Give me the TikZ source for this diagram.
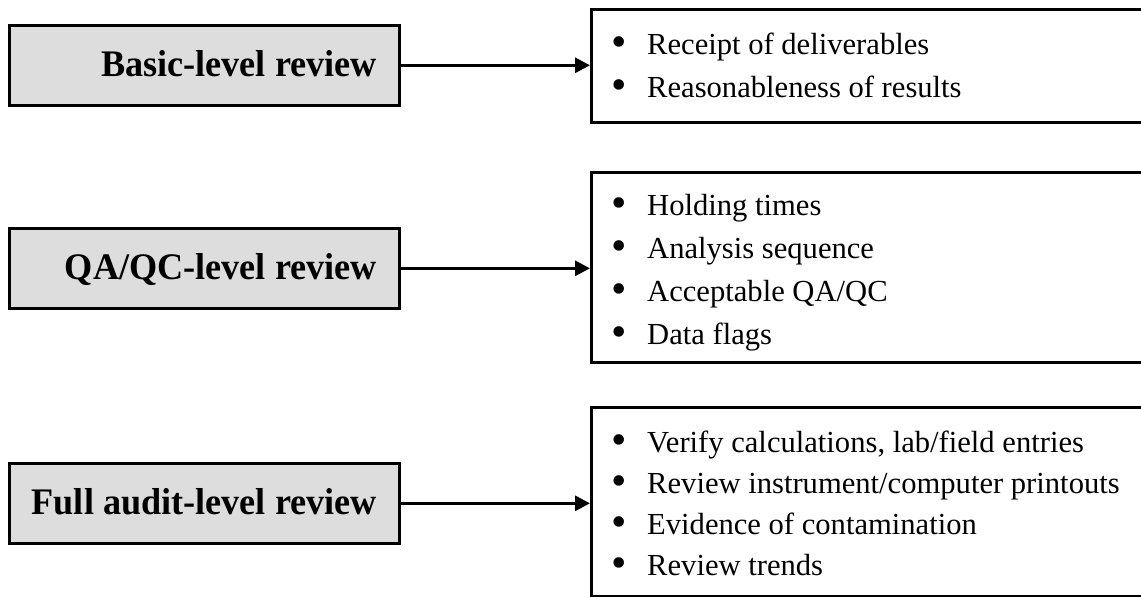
\documentclass[tikz,border=0pt]{standalone}
\usepackage{fontspec}
\setmainfont{Liberation Serif}
\newfontfamily\narrowserif[FakeStretch=0.965]{Liberation Serif}
\usetikzlibrary{arrows.meta}
\definecolor{boxgray}{HTML}{DDDDDD}
\tikzset{
  levelbox/.style={draw=black, line width=2.6pt, fill=boxgray, minimum width=390pt, minimum height=80pt, anchor=north west, inner sep=0pt},
  leveltext/.style={font=\narrowserif\fontsize{37.5}{40}\selectfont\bfseries, anchor=base east, inner sep=0pt},
  listbox/.style={draw=black, line width=2.6pt, anchor=north west, inner sep=0pt},
  item/.style={font=\fontsize{30.6}{36}\selectfont, anchor=base west, inner sep=0pt},
  link/.style={line width=3pt, -{Triangle[length=15pt, width=15pt]}}
}
\newcommand{\bul}[1]{\makebox[36pt][l]{\raisebox{-2pt}{\fontsize{44}{44}\selectfont •}}#1}
\begin{document}
\begin{tikzpicture}[x=1pt, y=-1pt]
\useasboundingbox (0,0) rectangle (1141,597);
\clip (0,0) rectangle (1141,597);
% left boxes
\node[levelbox] (b1) at (8,24) {};
\node[leveltext] (t1) at (377,76) {Basic-level review};
\node[levelbox] (b2) at (8,227) {};
\node[leveltext] (t2) at (377,279) {QA/QC-level review};
\node[levelbox] (b3) at (8,462) {};
\node[leveltext] (t3) at (377,514) {Full audit-level review};
% right boxes
\node[listbox, minimum width=560pt, minimum height=113pt] (r1) at (590,8) {};
\node[listbox, minimum width=560pt, minimum height=190pt] (r2) at (590,171) {};
\node[listbox, minimum width=560pt, minimum height=189pt] (r3) at (590,406) {};
% items
\node[item] (i11) at (611,54) {\bul{Receipt of deliverables}};
\node[item] (i12) at (611,97) {\bul{Reasonableness of results}};
\node[item] (i21) at (611,215) {\bul{Holding times}};
\node[item] (i22) at (611,258) {\bul{Analysis sequence}};
\node[item] (i23) at (611,301) {\bul{Acceptable QA/QC}};
\node[item] (i24) at (611,344) {\bul{Data flags}};
\node[item] (i31) at (611,452) {\bul{Verify calculations, lab/field entries}};
\node[item] (i32) at (611,493) {\bul{Review instrument/computer printouts}};
\node[item] (i33) at (611,534) {\bul{Evidence of contamination}};
\node[item] (i34) at (611,575) {\bul{Review trends}};
% connectors
\draw[link] (b1.east) -- (b1.east -| r1.west);
\draw[link] (b2.east) -- (b2.east -| r2.west);
\draw[link] (b3.east) -- (b3.east -| r3.west);
\end{tikzpicture}
\end{document}
